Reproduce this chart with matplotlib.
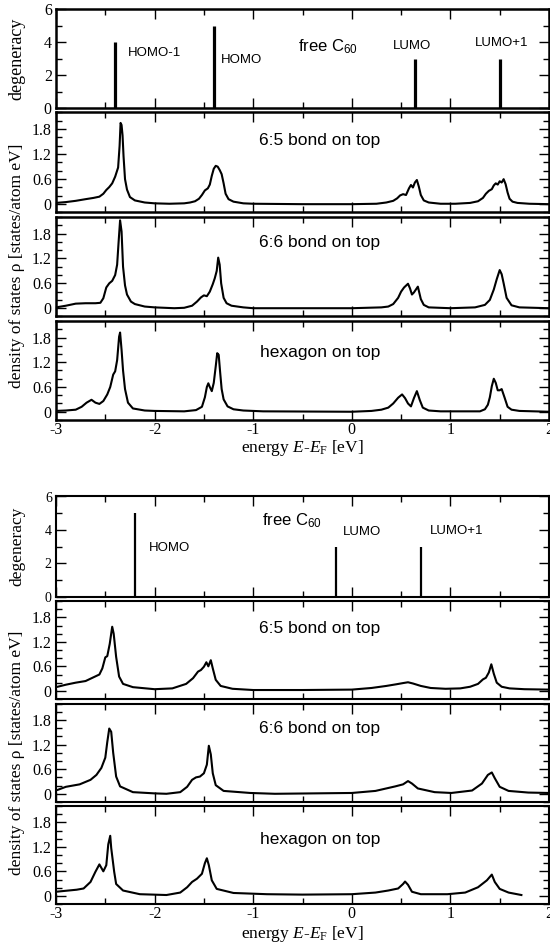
import matplotlib
matplotlib.use("Agg")
import matplotlib.pyplot as plt
from matplotlib.ticker import MultipleLocator

plt.rcParams['axes.unicode_minus'] = False
plt.rcParams['mathtext.fontset'] = 'custom'
plt.rcParams['mathtext.rm'] = 'Liberation Serif'
plt.rcParams['mathtext.it'] = 'Liberation Serif:italic'
plt.rcParams['mathtext.sf'] = 'Liberation Sans'

SERIF = 'Liberation Serif'
SANS = 'Liberation Sans'

# ---------------- data: top figure ----------------
top_levels = [-2.40, -1.40, 0.64, 1.50]
top_deg = [4, 5, 3, 3]
top_level_labels = ["HOMO-1", "HOMO", "LUMO", "LUMO+1"]

t65_x = [-3.0, -2.9, -2.8, -2.7, -2.62, -2.56, -2.52, -2.49, -2.46, -2.43, -2.40, -2.37, -2.355, -2.345,
         -2.335, -2.325, -2.315, -2.30, -2.28, -2.25, -2.20, -2.10, -2.0, -1.85, -1.7, -1.64, -1.59, -1.55,
         -1.52, -1.49, -1.46, -1.44, -1.42, -1.40, -1.38, -1.36, -1.34, -1.32, -1.30, -1.28, -1.25, -1.20,
         -1.10, -1.0, -0.5, 0.0, 0.25, 0.35, 0.42, 0.46, 0.49, 0.52, 0.55, 0.58, 0.60, 0.62, 0.64, 0.66,
         0.68, 0.70, 0.73, 0.78, 0.9, 1.05, 1.2, 1.28, 1.33, 1.36, 1.39, 1.42, 1.44, 1.46, 1.48, 1.50,
         1.52, 1.54, 1.56, 1.58, 1.60, 1.63, 1.68, 1.8, 2.0]
t65_y = [0.03, 0.05, 0.08, 0.12, 0.15, 0.18, 0.25, 0.34, 0.41, 0.50, 0.66, 0.88, 1.40, 1.95,
         1.90, 1.65, 1.15, 0.60, 0.35, 0.17, 0.09, 0.04, 0.02, 0.01, 0.02, 0.04, 0.07, 0.13,
         0.22, 0.33, 0.38, 0.47, 0.68, 0.85, 0.92, 0.90, 0.82, 0.72, 0.50, 0.25, 0.12, 0.06,
         0.02, 0.01, 0.0, 0.0, 0.01, 0.04, 0.08, 0.14, 0.21, 0.24, 0.22, 0.38, 0.46, 0.40, 0.52, 0.58,
         0.42, 0.22, 0.09, 0.04, 0.01, 0.01, 0.03, 0.07, 0.15, 0.25, 0.32, 0.36, 0.45, 0.50, 0.47, 0.55,
         0.52, 0.60, 0.48, 0.28, 0.13, 0.06, 0.03, 0.01, 0.0]

t66_x = [-3.0, -2.9, -2.8, -2.7, -2.6, -2.55, -2.52, -2.49, -2.46, -2.43, -2.40, -2.38, -2.365, -2.35,
         -2.335, -2.32, -2.30, -2.28, -2.24, -2.2, -2.1, -2.0, -1.8, -1.7, -1.62, -1.57, -1.53, -1.50,
         -1.47, -1.44, -1.41, -1.39, -1.37, -1.355, -1.34, -1.325, -1.30, -1.27, -1.22, -1.1, -1.0, 0.0,
         0.3, 0.37, 0.42, 0.47, 0.50, 0.53, 0.57, 0.59, 0.61, 0.63, 0.67, 0.70, 0.73, 0.78, 1.0, 1.25,
         1.35, 1.40, 1.44, 1.47, 1.50, 1.52, 1.54, 1.57, 1.62, 1.7, 2.0]
t66_y = [0.02, 0.06, 0.11, 0.12, 0.12, 0.13, 0.24, 0.50, 0.60, 0.66, 0.80, 1.05, 1.60, 2.12,
         1.85, 1.00, 0.55, 0.33, 0.16, 0.10, 0.04, 0.02, 0.0, 0.01, 0.06, 0.16, 0.26, 0.31,
         0.29, 0.40, 0.58, 0.72, 0.90, 1.22, 1.05, 0.60, 0.25, 0.12, 0.06, 0.02, 0.0, 0.0,
         0.02, 0.04, 0.10, 0.25, 0.40, 0.50, 0.59, 0.48, 0.33, 0.38, 0.52, 0.22, 0.08, 0.02, 0.0, 0.02,
         0.08, 0.20, 0.45, 0.70, 0.92, 0.82, 0.60, 0.25, 0.07, 0.02, 0.0]

thex_x = [-3.0, -2.9, -2.8, -2.74, -2.69, -2.64, -2.60, -2.56, -2.52, -2.48, -2.45, -2.42, -2.40, -2.38,
          -2.36, -2.35, -2.335, -2.32, -2.30, -2.27, -2.22, -2.1, -2.0, -1.7, -1.58, -1.52, -1.49, -1.47,
          -1.455, -1.44, -1.42, -1.40, -1.38, -1.365, -1.35, -1.335, -1.32, -1.30, -1.26, -1.2, -1.1, -0.9,
          0.0, 0.2, 0.3, 0.37, 0.42, 0.47, 0.51, 0.54, 0.57, 0.60, 0.63, 0.66, 0.69, 0.72, 0.78, 0.9,
          1.3, 1.35, 1.38, 1.40, 1.42, 1.44, 1.46, 1.48, 1.50, 1.52, 1.55, 1.58, 1.62, 1.7, 2.0]
thex_y = [0.02, 0.03, 0.05, 0.12, 0.22, 0.29, 0.22, 0.19, 0.26, 0.42, 0.60, 0.90, 0.98, 1.25,
          1.82, 1.92, 1.50, 1.00, 0.55, 0.22, 0.08, 0.03, 0.02, 0.01, 0.04, 0.12, 0.35, 0.60,
          0.69, 0.60, 0.50, 0.70, 1.10, 1.42, 1.38, 0.95, 0.55, 0.30, 0.13, 0.06, 0.03, 0.01,
          0.0, 0.02, 0.05, 0.10, 0.20, 0.34, 0.42, 0.33, 0.20, 0.13, 0.33, 0.50, 0.28, 0.10, 0.03, 0.01,
          0.01, 0.06, 0.17, 0.35, 0.62, 0.80, 0.70, 0.52, 0.52, 0.55, 0.34, 0.12, 0.05, 0.02, 0.0]

# ---------------- data: bottom figure ----------------
bot_levels = [-2.20, -0.16, 0.70]
bot_deg = [5, 3, 3]
bot_level_labels = ["HOMO", "LUMO", "LUMO+1"]

b65_x = [-3.0, -2.9, -2.8, -2.7, -2.63, -2.56, -2.53, -2.50, -2.48, -2.455, -2.43, -2.415, -2.39, -2.36,
         -2.32, -2.22, -2.0, -1.82, -1.68, -1.61, -1.56, -1.53, -1.50, -1.475, -1.455, -1.43, -1.41, -1.38,
         -1.33, -1.21, -1.0, -0.5, 0.0, 0.2, 0.35, 0.45, 0.52, 0.57, 0.62, 0.7, 0.8, 0.95, 1.1, 1.2,
         1.28, 1.33, 1.36, 1.39, 1.415, 1.44, 1.47, 1.52, 1.6, 1.75, 2.0]
b65_y = [0.09, 0.15, 0.20, 0.24, 0.32, 0.40, 0.55, 0.82, 0.85, 1.15, 1.57, 1.40, 0.83, 0.35,
         0.17, 0.09, 0.04, 0.06, 0.17, 0.31, 0.47, 0.51, 0.59, 0.70, 0.60, 0.75, 0.55, 0.27,
         0.12, 0.05, 0.02, 0.02, 0.03, 0.07, 0.12, 0.16, 0.19, 0.21, 0.18, 0.12, 0.07, 0.05, 0.06, 0.10,
         0.17, 0.28, 0.32, 0.45, 0.65, 0.42, 0.20, 0.10, 0.06, 0.04, 0.03]

b66_x = [-3.0, -2.9, -2.76, -2.65, -2.59, -2.54, -2.50, -2.48, -2.46, -2.44, -2.42, -2.39, -2.35, -2.22,
         -2.0, -1.88, -1.74, -1.67, -1.62, -1.58, -1.54, -1.50, -1.47, -1.45, -1.43, -1.41, -1.38, -1.30,
         -1.03, -0.78, 0.0, 0.24, 0.44, 0.52, 0.57, 0.61, 0.67, 0.84, 1.01, 1.22, 1.32, 1.38, 1.42, 1.45,
         1.50, 1.59, 1.79, 2.0]
b66_y = [0.08, 0.17, 0.23, 0.34, 0.46, 0.63, 0.88, 1.26, 1.59, 1.51, 1.0, 0.42, 0.18, 0.04,
         0.01, 0.0, 0.04, 0.17, 0.34, 0.40, 0.42, 0.50, 0.71, 1.17, 0.96, 0.50, 0.21, 0.07,
         0.02, 0.0, 0.02, 0.07, 0.18, 0.23, 0.31, 0.25, 0.13, 0.04, 0.02, 0.08, 0.25, 0.46, 0.52, 0.38,
         0.17, 0.07, 0.03, 0.02]

bhex_x = [-3.0, -2.79, -2.72, -2.65, -2.60, -2.56, -2.52, -2.49, -2.47, -2.45, -2.44, -2.41, -2.39, -2.32,
          -2.15, -1.88, -1.74, -1.67, -1.62, -1.57, -1.52, -1.49, -1.47, -1.45, -1.42, -1.37, -1.20, -0.86,
          -0.5, 0.0, 0.24, 0.37, 0.47, 0.52, 0.54, 0.57, 0.61, 0.70, 0.97, 1.15, 1.28, 1.37, 1.42, 1.45,
          1.50, 1.59, 1.72]
bhex_y = [0.10, 0.15, 0.18, 0.34, 0.59, 0.77, 0.60, 0.75, 1.26, 1.47, 1.17, 0.59, 0.29, 0.13,
          0.04, 0.02, 0.08, 0.21, 0.34, 0.42, 0.54, 0.80, 0.92, 0.75, 0.38, 0.17, 0.07, 0.04,
          0.03, 0.04, 0.08, 0.13, 0.18, 0.29, 0.35, 0.27, 0.10, 0.04, 0.04, 0.08, 0.21, 0.38, 0.52, 0.34,
          0.17, 0.08, 0.02]

panel_titles = ["6:5 bond on top", "6:6 bond on top", "hexagon on top"]

W, H = 550.0, 947.0
fig = plt.figure(figsize=(5.5, 9.47), dpi=100)


def ax_px(top, bottom, left=56.0, right=549.0):
    return fig.add_axes([left / W, 1 - bottom / H, (right - left) / W, (bottom - top) / H])


def style(ax, spine_lw, ticklabel_size, show_x):
    for s in ax.spines.values():
        s.set_linewidth(spine_lw)
    ax.set_xlim(-3, 2)
    ax.xaxis.set_major_locator(MultipleLocator(1))
    ax.xaxis.set_minor_locator(MultipleLocator(0.5))
    ax.tick_params(which='both', direction='in', top=True, right=True, width=1.0)
    ax.tick_params(which='major', length=7)
    ax.tick_params(which='minor', length=4)
    ax.tick_params(axis='y', labelsize=ticklabel_size, pad=3)
    ax.tick_params(axis='x', labelsize=11.5, pad=1.5)
    for lab in ax.get_xticklabels() + ax.get_yticklabels():
        lab.set_fontfamily(SERIF)
    if not show_x:
        ax.tick_params(axis='x', labelbottom=False)


def build(group_px, levels, degs, lab_names, lab_pos, free_pos, curves, title_y,
          spine_lw, deg_lw, deg_lab_size, xlabel_y, ylab_sizes):
    # degeneracy panel
    t, b = group_px[0]
    ax0 = ax_px(t, b)
    ax0.vlines(levels, 0, degs, colors='black', linewidth=deg_lw)
    ax0.set_ylim(0, 6)
    ax0.yaxis.set_major_locator(MultipleLocator(2))
    ax0.yaxis.set_minor_locator(MultipleLocator(1))
    style(ax0, spine_lw, deg_lab_size, False)
    for name, (px, py) in zip(lab_names, lab_pos):
        fig.text(px / W, 1 - py / H, name, fontsize=9.5, family=SANS, ha='center', va='center')
    fig.text(free_pos[0] / W, 1 - free_pos[1] / H, r"free C$_{\mathsf{60}}$", fontsize=12,
             family=SANS, ha='left', va='center')
    fig.text(17 / W, 1 - (t + b) / 2 / H, "degeneracy", rotation=90, family=SERIF,
             fontsize=ylab_sizes, ha='center', va='center')
    axes = [ax0]
    for i, ((t, b), (cx, cy), title, ty) in enumerate(zip(group_px[1:], curves, panel_titles, title_y)):
        ax = ax_px(t, b)
        ax.plot(cx, cy, color='black', linewidth=1.5)
        ax.set_ylim(-0.2, 2.2)
        ax.set_yticks([0, 0.6, 1.2, 1.8])
        ax.set_yticklabels(["0", "0.6", "1.2", "1.8"])
        ax.yaxis.set_minor_locator(MultipleLocator(0.2))
        style(ax, spine_lw, 11.5, i == 2)
        fig.text(320 / W, 1 - ty / H, title, fontsize=12.5, family=SANS, ha='center', va='center')
        axes.append(ax)
    mid = (group_px[1][0] + group_px[3][1]) / 2
    fig.text(17 / W, 1 - mid / H, r"density of states ρ [states/atom eV]", rotation=90,
             family=SERIF, fontsize=12.5, ha='center', va='center')
    fig.text(302 / W, 1 - xlabel_y / H, r"energy $E$-$E_{\mathrm{F}}$ [eV]", family=SERIF,
             fontsize=12.5, ha='center', va='center')
    return axes


top_px = [(9, 108.5), (112.5, 212.5), (217, 316.5), (321, 420)]
build(top_px, top_levels, top_deg, top_level_labels,
      [(154, 53), (242, 60), (412, 46), (502, 43)], (298, 47),
      [(t65_x, t65_y), (t66_x, t66_y), (thex_x, thex_y)], [141, 242, 353],
      1.8, 2.3, 11.5, 448, 13)

bot_px = [(496.5, 596.5), (601, 699), (703.5, 802), (806, 904)]
build(bot_px, bot_levels, bot_deg, bot_level_labels,
      [(169, 548), (362, 532), (457, 531)], (262, 521),
      [(b65_x, b65_y), (b66_x, b66_y), (bhex_x, bhex_y)], [628, 728, 839],
      1.5, 1.6, 10, 934, 12.5)

fig.savefig("out.png", dpi=100)
